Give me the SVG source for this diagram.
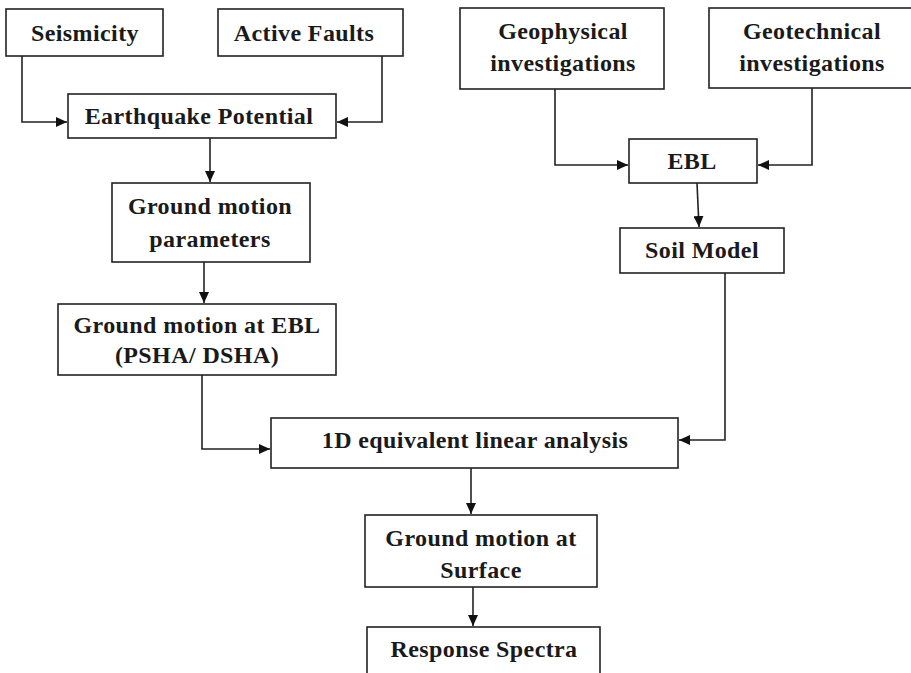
<svg xmlns="http://www.w3.org/2000/svg" width="911" height="673" viewBox="0 0 911 673">
<style>
  .box { fill: #fff; stroke: #222; stroke-width: 1.6; }
  .lbl { font-family: "Liberation Serif", "Times New Roman", serif; font-weight: bold; font-size: 24px; letter-spacing: 0.4px; fill: #1a1a1a; text-anchor: middle; }
  .con { fill: none; stroke: #222; stroke-width: 1.6; }
</style>
<defs>
  <marker id="arr" markerUnits="userSpaceOnUse" markerWidth="12" markerHeight="10" refX="11" refY="5" orient="auto">
    <path d="M0,0 L11,5 L0,10 Z" fill="#111"/>
  </marker>
</defs>
<rect width="911" height="673" fill="#fff"/>

<g id="connectors">
  <path class="con" d="M22,56 V122 H67" marker-end="url(#arr)"/>
  <path class="con" d="M382,56 V122 H337" marker-end="url(#arr)"/>
  <path class="con" d="M210,138 V182" marker-end="url(#arr)"/>
  <path class="con" d="M204,262 V303" marker-end="url(#arr)"/>
  <path class="con" d="M202,375 V449 H270" marker-end="url(#arr)"/>
  <path class="con" d="M555,89 V165 H628" marker-end="url(#arr)"/>
  <path class="con" d="M812,88 V165 H758" marker-end="url(#arr)"/>
  <path class="con" d="M697,183 L699,227" marker-end="url(#arr)"/>
  <path class="con" d="M725,273 V440 H679" marker-end="url(#arr)"/>
  <path class="con" d="M471,468 V514" marker-end="url(#arr)"/>
  <path class="con" d="M473,587 V626" marker-end="url(#arr)"/>
</g>

<g id="seismicity">
  <rect class="box" x="6" y="9" width="157" height="47"/>
  <text class="lbl" x="85" y="41">Seismicity</text>
</g>
<g id="active-faults">
  <rect class="box" x="218" y="9" width="185" height="47"/>
  <text class="lbl" x="304" y="41">Active Faults</text>
</g>
<g id="earthquake-potential">
  <rect class="box" x="68" y="94" width="268" height="44"/>
  <text class="lbl" x="199" y="124">Earthquake Potential</text>
</g>
<g id="ground-motion-parameters">
  <rect class="box" x="112" y="183" width="198" height="79"/>
  <text class="lbl" x="210" y="214">Ground motion</text>
  <text class="lbl" x="210" y="247">parameters</text>
</g>
<g id="ground-motion-ebl">
  <rect class="box" x="58" y="304" width="278" height="71"/>
  <text class="lbl" x="197" y="333">Ground motion at EBL</text>
  <text class="lbl" x="197" y="363">(PSHA/ DSHA)</text>
</g>
<g id="geophysical">
  <rect class="box" x="460" y="8" width="204" height="81"/>
  <text class="lbl" x="563" y="39">Geophysical</text>
  <text class="lbl" x="563" y="71">investigations</text>
</g>
<g id="geotechnical">
  <rect class="box" x="709" y="8" width="204" height="80"/>
  <text class="lbl" x="812" y="39">Geotechnical</text>
  <text class="lbl" x="812" y="71">investigations</text>
</g>
<g id="ebl">
  <rect class="box" x="629" y="139" width="128" height="44"/>
  <text class="lbl" x="692" y="169">EBL</text>
</g>
<g id="soil-model">
  <rect class="box" x="620" y="228" width="164" height="45"/>
  <text class="lbl" x="702" y="258">Soil Model</text>
</g>
<g id="equivalent-linear">
  <rect class="box" x="271" y="418" width="407" height="50"/>
  <text class="lbl" x="475" y="448">1D equivalent linear analysis</text>
</g>
<g id="ground-motion-surface">
  <rect class="box" x="365" y="515" width="232" height="72"/>
  <text class="lbl" x="481" y="546">Ground motion at</text>
  <text class="lbl" x="481" y="578">Surface</text>
</g>
<g id="response-spectra">
  <rect class="box" x="367" y="627" width="233" height="60"/>
  <text class="lbl" x="484" y="657">Response Spectra</text>
</g>
</svg>
